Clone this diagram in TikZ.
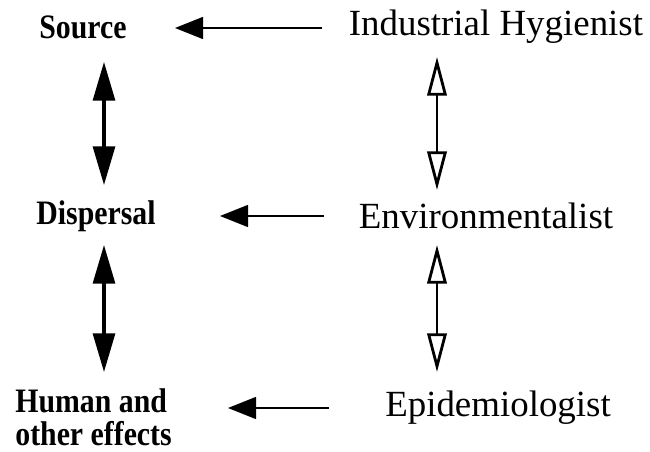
\documentclass[tikz,border=0pt]{standalone}
\usepackage{fontspec}
\setmainfont{Liberation Serif}
\usetikzlibrary{arrows.meta}
\newcommand{\narrowbold}[1]{\scalebox{0.87}[1]{#1}}
\begin{document}
\begin{tikzpicture}[x=0.02cm,y=-0.02cm,
  lab/.style={font=\fontsize{19.5}{17.5}\selectfont\bfseries, inner sep=0pt},
  prof/.style={font=\fontsize{21}{24}\selectfont, inner sep=0pt},
  harrow/.style={line width=1.1pt, -{Triangle[length=16pt,width=12.5pt]}},
  farrow/.style={line width=1.8pt, {Triangle[length=22pt,width=12.5pt]}-{Triangle[length=22pt,width=12.5pt]}},
  oarrow/.style={line width=1.6pt, {Triangle[open,length=22pt,width=11pt,fill=white]}-{Triangle[open,length=22pt,width=11pt,fill=white]}}]
\useasboundingbox (0,0) rectangle (650,452);
\node[lab] (src) at (83,27) {\narrowbold{Source}};
\node[lab] (dis) at (96,216) {\narrowbold{Dispersal}};
\node[lab, anchor=west] (hum) at (15,401) {\narrowbold{Human and}};
\node[lab, anchor=west] (oth) at (15,434) {\narrowbold{other effects}};
\node[prof] (ih) at (496,27) {Industrial Hygienist};
\node[prof] (env) at (486,216) {Environmentalist};
\node[prof] (epi) at (498,408) {Epidemiologist};
\coordinate (h1a) at (322,28); \coordinate (h1b) at (175,28);
\coordinate (h2a) at (324,216); \coordinate (h2b) at (220,216);
\coordinate (h3a) at (329,408); \coordinate (h3b) at (228,408);
\coordinate (l1a) at (104,62); \coordinate (l1b) at (104,185);
\coordinate (l2a) at (104,245); \coordinate (l2b) at (104,372);
\coordinate (r1a) at (437,57); \coordinate (r1b) at (437,190);
\coordinate (r2a) at (437,245); \coordinate (r2b) at (437,372);
\draw[harrow] (h1a) -- (h1b);
\draw[harrow] (h2a) -- (h2b);
\draw[harrow] (h3a) -- (h3b);
\draw[farrow] (l1a) -- (l1b);
\draw[farrow] (l2a) -- (l2b);
\draw[oarrow] (r1a) -- (r1b);
\draw[oarrow] (r2a) -- (r2b);
\end{tikzpicture}
\end{document}
